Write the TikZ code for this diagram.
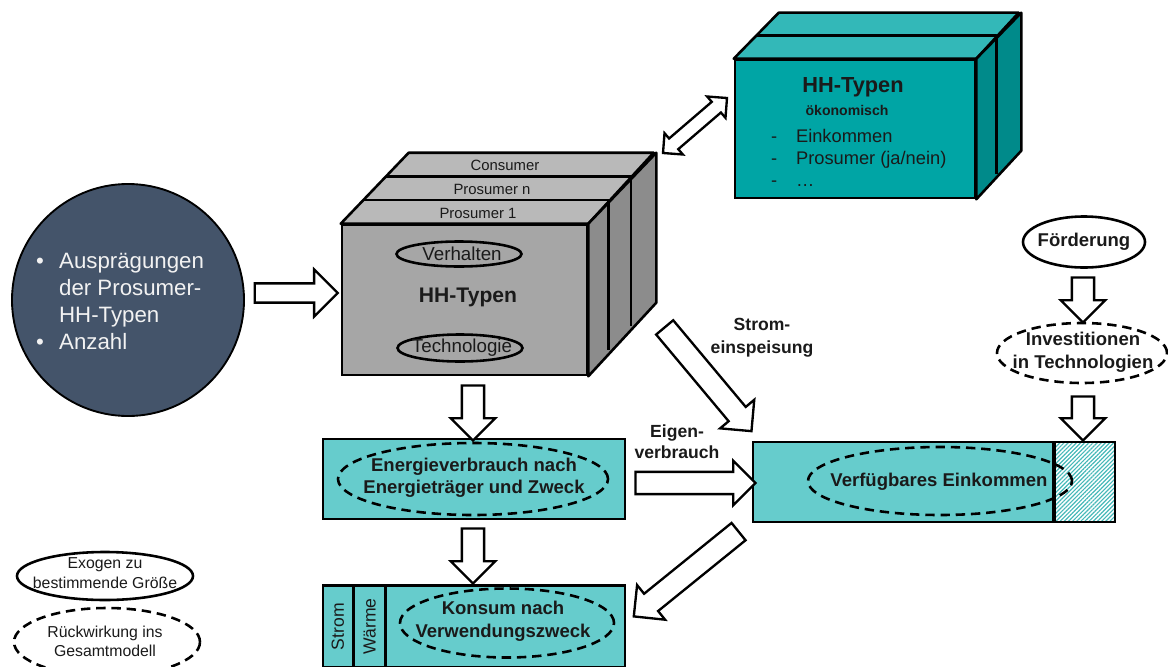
\documentclass[tikz,border=0pt]{standalone}
\usepackage{fontspec}
\setmainfont{Liberation Sans}
\usetikzlibrary{positioning,calc,shapes.geometric,shapes.arrows,patterns.meta}

\definecolor{slate}{HTML}{44546A}
\definecolor{tealfront}{HTML}{00A5A5}
\definecolor{tealtop}{HTML}{33B8B8}
\definecolor{tealside}{HTML}{008A8A}
\definecolor{teallight}{HTML}{66CCCC}
\definecolor{tealhatch}{HTML}{45B8B8}
\definecolor{grayfront}{HTML}{A6A6A6}
\definecolor{graytop}{HTML}{B9B9B9}
\definecolor{grayside}{HTML}{8C8C8C}
\definecolor{ink}{HTML}{1A1A1A}

\newcommand{\fsz}[2]{\fontsize{#1}{#2}\selectfont}
\newcommand{\blockarrow}[3][]{\path[allow upside down] let \p1=($(#3)-(#2)$), \n1={veclen(\x1,\y1)} in (#2) -- node[hollow, sloped, allow upside down, minimum height=\n1, #1] {} (#3);}

\tikzset{
	box/.style={draw, line width=2.2pt, fill=teallight, minimum width=9.06cm, minimum height=2.4cm, inner sep=0pt},
	oval/.style={ellipse, draw, line width=2.2pt, inner sep=0pt},
	dashoval/.style={oval, dash pattern=on 8pt off 5pt},
	hollow/.style={single arrow, draw, fill=white, line width=2pt, inner sep=0pt, inner ysep=8.5pt, single arrow head extend=9.5pt},
	twohead/.style={double arrow, draw, fill=white, line width=2pt, inner sep=0pt, inner ysep=5pt, double arrow head extend=6pt},
	face/.style={draw, line width=2.2pt, line join=round},
	boldtext/.style={font=\bfseries\fsz{15.8pt}{19.5pt}, align=center, text=ink},
	plaintext/.style={font=\fsz{13.5pt}{17pt}, align=center, text=ink},
}

\begin{document}
\begin{tikzpicture}[x=0.03cm, y=-0.03cm]
	\useasboundingbox (0,0) rectangle (1168,666);

	\node (auspr) [circle, draw, line width=1.6pt, fill=slate, minimum size=6.96cm] at (128,300) {};
	\node [anchor=west, text=white!95!black, font=\fsz{19pt}{23pt}] at (32,304) {\begin{tabular}{@{}l@{\hspace{13pt}}l@{}}
		\textbullet & Ausprägungen\\
		& der Prosumer-\\
		& HH-Typen\\
		\textbullet & Anzahl
	\end{tabular}};

	\node (hh) [draw, line width=2.2pt, fill=grayfront, minimum width=7.35cm, minimum height=4.5cm] at (464.5,300) {};
	\draw[face, fill=graytop] (hh.north west) -- ++(68,-71) -- ++(245,0) -- (hh.north east) -- cycle;
	\draw[face, fill=grayside] (hh.north east) -- ++(68,-71) -- ++(0,150) -- (hh.south east) -- cycle;
	\foreach \k in {1,2}
		\draw[face] ($(hh.north west)+(\k*22.67,-\k*23.67)$) -- ++(245,0) -- ++(0,150);
	\node [plaintext, font=\fsz{12.7pt}{15pt}] at (478,213) {Prosumer 1};
	\node [plaintext, font=\fsz{12.7pt}{15pt}] at (492,189) {Prosumer n};
	\node [plaintext, font=\fsz{12.7pt}{15pt}] at (505,165) {Consumer};
	\node (verh) [oval, minimum width=3.75cm, minimum height=0.75cm] at (459,254) {};
	\node [plaintext, font=\fsz{16pt}{19pt}] at (462,254) {Verhalten};
	\node [text=ink, font=\bfseries\fsz{18pt}{21pt}] at (468,297) {HH-Typen};
	\node (tech) [oval, minimum width=3.75cm, minimum height=0.81cm] at (460,348) {};
	\node [plaintext, font=\fsz{16pt}{19pt}] at (462,348) {Technologie};

	\node (oeko) [draw, line width=2.2pt, fill=tealfront, minimum width=7.2cm, minimum height=4.14cm] at (855,129) {};
	\draw[face, fill=tealtop] (oeko.north west) -- ++(45,-46) -- ++(240,0) -- (oeko.north east) -- cycle;
	\draw[face, fill=tealside] (oeko.north east) -- ++(45,-46) -- ++(0,138) -- (oeko.south east) -- cycle;
	\draw[face] ($(oeko.north west)+(22.5,-23)$) -- ++(240,0) -- ++(0,138);
	\node [text=ink, font=\bfseries\fsz{18.6pt}{21pt}] at (853,87) {HH-Typen};
	\node [text=ink, font=\bfseries\fsz{12pt}{14pt}] at (847,110) {ökonomisch};
	\node [anchor=west, text=ink, font=\fsz{15.6pt}{19pt}, inner sep=0pt] at (771,160) {\begin{tabular}{@{}l@{\hspace{16pt}}l@{}}
		- & Einkommen\\
		- & Prosumer (ja/nein)\\
		- & …
	\end{tabular}};

	\node (energie) [box] at (474,479) {};
	\node (energieov) [dashoval, minimum width=8.1cm, minimum height=2.16cm] at (473,479) {};
	\node [boldtext, font=\bfseries\fsz{15.8pt}{18.7pt}] at (474,478) {Energieverbrauch nach\\Energieträger und Zweck};

	\node (konsum) [box, minimum height=2.46cm, below=1.92cm of energie] {};
	\draw[line width=2.2pt] ($(konsum.north west)+(32,0)$) -- ($(konsum.south west)+(32,0)$);
	\draw[line width=2.2pt] ($(konsum.north west)+(64,0)$) -- ($(konsum.south west)+(64,0)$);
	\node [rotate=90, text=ink, font=\fsz{15pt}{18pt}] at ($(konsum.west)+(16,0)$) {Strom};
	\node [rotate=90, text=ink, font=\fsz{15pt}{18pt}] at ($(konsum.west)+(48,0)$) {Wärme};
	\node (konsumov) [dashoval, minimum width=6.42cm, minimum height=2.07cm] at (507,623) {};
	\node [boldtext] at (503,621) {Konsum nach\\Verwendungszweck};

	\node (einkommen) [box, minimum width=9cm] at (903,482) {};
	\node (investpart) [draw, line width=2.2pt, pattern={Lines[angle=45, distance=2.5pt, line width=1pt]}, pattern color=tealhatch, minimum width=1.8cm, minimum height=2.4cm, anchor=west] at (einkommen.east) {};
	\node (einkommenov) [dashoval, minimum width=7.92cm, minimum height=2.04cm] at (940,481) {};
	\node [boldtext] at (939,482) {Verfügbares Einkommen};

	\node (foerd) [oval, minimum width=3.66cm, minimum height=1.53cm] at (1084,242) {};
	\node [boldtext] at (foerd) {Förderung};
	\node (invest) [dashoval, minimum width=5.1cm, minimum height=1.8cm] at (1082,353) {};
	\node [boldtext] at (1083,352) {Investitionen\\in Technologien};

	\node [boldtext, font=\bfseries\fsz{15pt}{19.5pt}] at (762,338) {Strom-\\einspeisung};
	\node [boldtext, font=\bfseries\fsz{15pt}{18pt}] at (677,442) {Eigen-\\verbrauch};

	\node (exo) [oval, minimum width=5.28cm, minimum height=1.44cm] at (105,576) {};
	\node [plaintext] at (105,573) {Exogen zu\\bestimmende Größe};
	\node (rueck) [dashoval, minimum width=5.58cm, minimum height=2.04cm] at (107,642) {};
	\node [plaintext, font=\fsz{13.5pt}{16pt}] at (105,641) {Rückwirkung ins\\Gesamtmodell};

	\coordinate (c1) at (250,293);
	\coordinate (c2) at (333,293);
	\coordinate (c3) at (473,380);
	\coordinate (c4) at (473,435);
	\coordinate (c5) at (473,523);
	\coordinate (c6) at (473,578);
	\coordinate (c7) at (630,483);
	\coordinate (c8) at (750,483);
	\coordinate (c9) at (661,323);
	\coordinate (c10) at (748,427);
	\coordinate (c11) at (743,528);
	\coordinate (c12) at (638,613);
	\coordinate (c13) at (1083,272);
	\coordinate (c14) at (1083,317);
	\coordinate (c15) at (1083,391);
	\coordinate (c16) at (1083,435);
	\coordinate (c17) at (663,153);
	\coordinate (c18) at (727,98);

	\blockarrow[inner ysep=7.2pt, single arrow head extend=12pt]{c1}{c2}
	\blockarrow{c3}{c4}
	\blockarrow{c5}{c6}
	\blockarrow{c7}{c8}
	\blockarrow{c9}{c10}
	\blockarrow{c11}{c12}
	\blockarrow{c13}{c14}
	\blockarrow{c15}{c16}
	\path let \p1=($(c18)-(c17)$), \n1={veclen(\x1,\y1)} in (c17) -- node[twohead, sloped, minimum height=\n1] {} (c18);
\end{tikzpicture}
\end{document}
